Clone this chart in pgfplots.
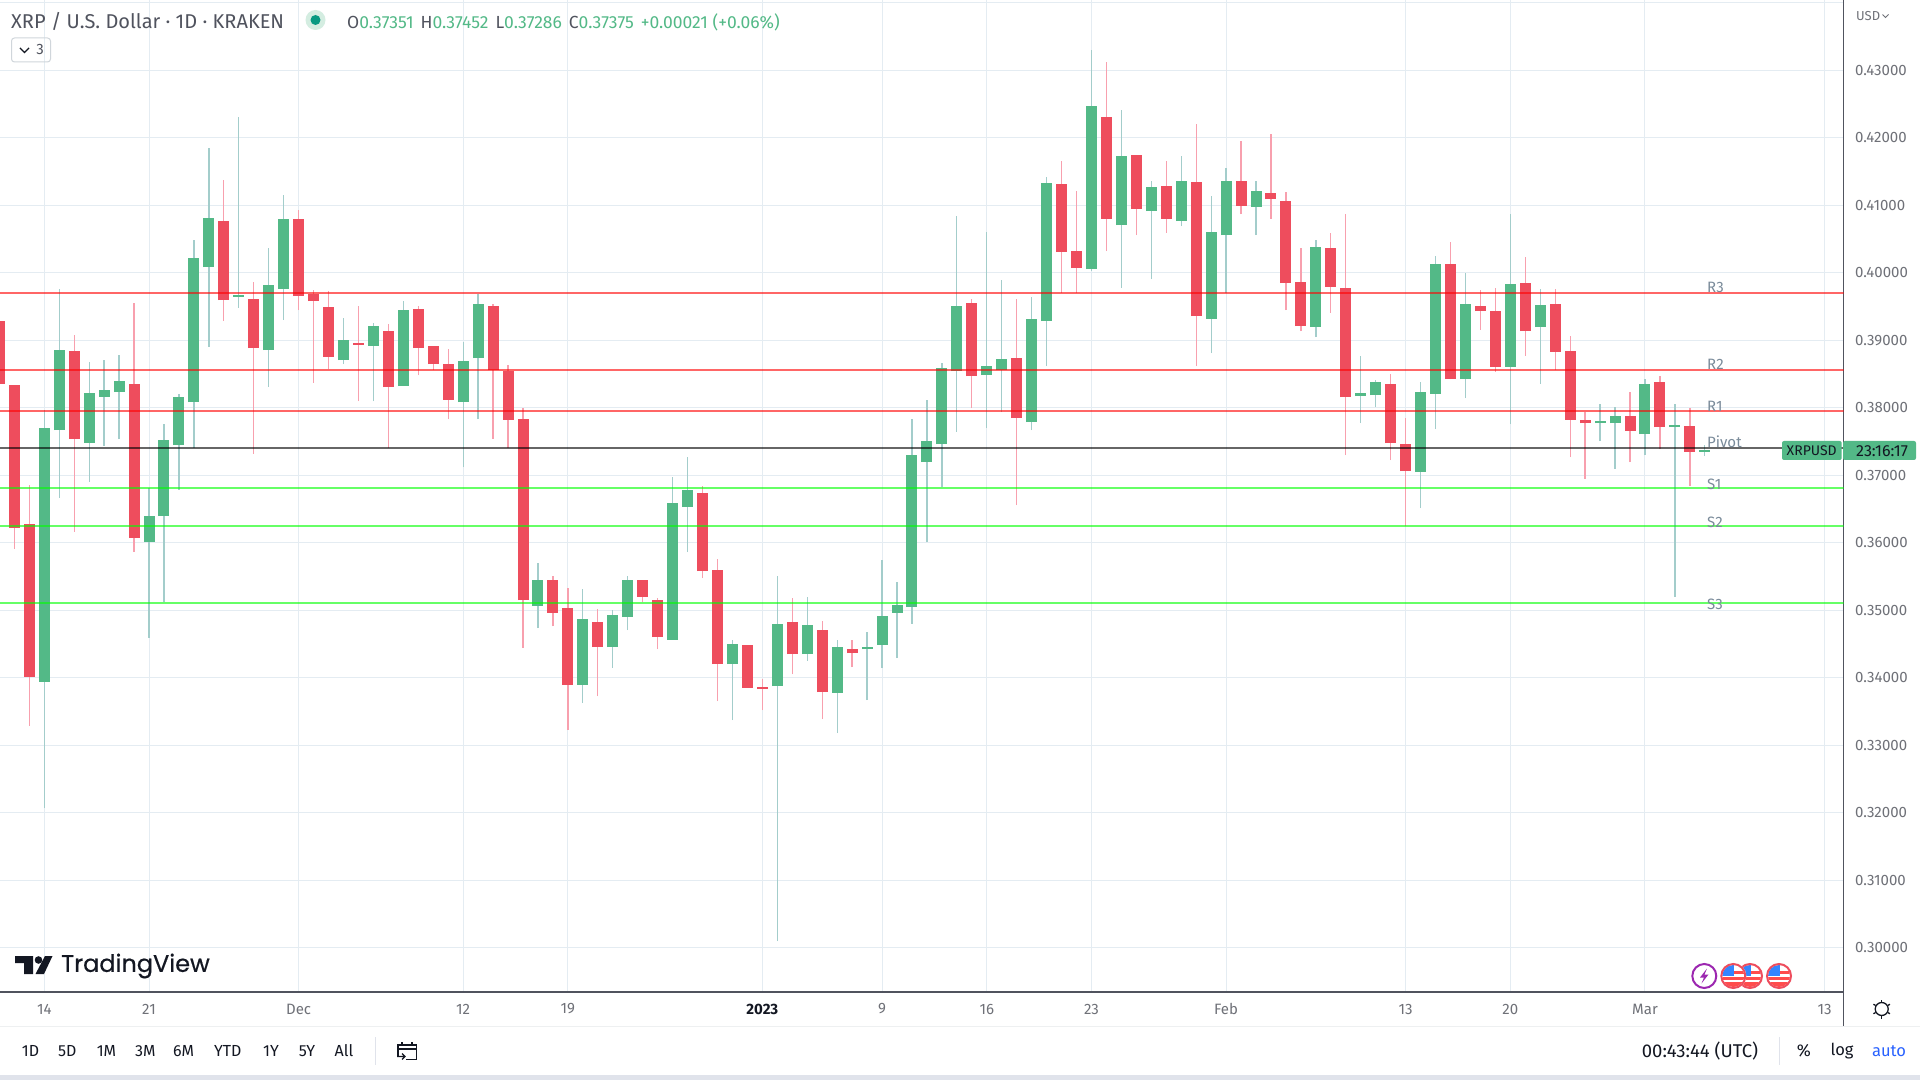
\documentclass[border=0pt]{standalone}
\usepackage{fontspec}
\usepackage{pgfplots}
\usepackage{pgfplotstable}
\pgfplotsset{compat=1.18}
\setmainfont{Fira Sans}
\newfontfamily\logofont[FakeBold=0.5]{Poppins}

\definecolor{upbody}{HTML}{53B987}
\definecolor{dnbody}{HTML}{EE4D5D}
\definecolor{upwick}{HTML}{A3CDCB}
\definecolor{dnwick}{HTML}{F8A0AE}
\definecolor{gridc}{HTML}{E4ECF2}
\definecolor{spine}{HTML}{50535E}
\definecolor{ticktxt}{HTML}{6F7178}
\definecolor{lvltxt}{HTML}{7A8B9A}
\definecolor{darktxt}{HTML}{131722}

% open high low close, read off the price scale
\pgfplotstableread{
i o h l c
0 .33939 .37968 .32072 .37701
1 .37671 .39756 .36669 .38856
3 .37483 .38679 .36906 .38219
4 .38165 .38708 .37439 .38264
5 .38234 .38782 .37538 .38397
7 .36012 .36812 .34595 .36397
8 .36397 .37760 .35128 .37523
9 .37449 .38205 .36787 .38160
10 .38086 .40486 .37405 .40219
11 .40086 .41849 .38905 .40812
13 .39642 .42308 .39483 .39671
15 .38856 .40367 .38313 .39819
16 .39760 .41152 .39301 .40797
20 .38708 .39330 .38649 .39005
22 .38916 .39256 .38101 .39212
24 .38323 .39582 .38323 .39449
28 .38086 .38975 .37123 .38694
29 .38738 .39686 .37834 .39538
33 .35064 .35701 .34738 .35449
36 .33898 .35316 .33627 .34872
38 .34457 .35005 .34150 .34931
39 .34901 .35509 .34709 .35449
42 .34561 .36975 .34561 .36590
43 .36531 .37271 .35864 .36783
46 .34205 .34561 .33376 .34501
49 .33879 .35509 .30102 .34798
51 .34353 .35198 .34250 .34783
53 .33776 .34561 .33183 .34457
55 .34427 .34679 .33672 .34457
56 .34487 .35746 .34146 .34916
57 .34961 .35420 .34294 .35079
58 .35049 .37834 .34798 .37301
59 .37197 .38116 .36012 .37508
60 .37464 .38664 .36827 .38590
61 .38545 .40841 .37642 .39508
63 .38486 .40604 .37701 .38619
64 .38560 .39893 .37938 .38723
66 .37790 .39642 .37671 .39316
67 .39286 .41419 .38619 .41330
70 .40056 .43300 .40027 .42471
72 .40708 .42412 .39775 .41730
74 .40915 .41360 .39908 .41271
76 .40767 .41730 .40693 .41360
78 .39316 .41138 .38812 .40604
79 .40560 .41552 .39701 .41360
81 .40975 .41360 .40560 .41212
85 .39197 .40486 .39049 .40382
88 .38175 .38768 .37775 .38219
89 .38190 .38412 .38012 .38382
92 .37049 .38382 .36516 .38234
93 .38205 .40249 .37686 .40130
95 .38427 .39997 .38145 .39538
98 .38605 .40871 .37760 .39834
100 .39197 .39760 .38353 .39523
104 .37775 .38057 .37508 .37805
105 .37775 .38012 .37094 .37879
107 .37612 .38427 .37301 .38353
109 .37716 .38057 .35198 .37745
111 .37351 .37452 .37286 .37375
}\upcandles

\pgfplotstableread{
i o h l c
-3 .39286 .39286 .38264 .38353
-2 .38338 .38338 .35909 .36224
-1 .36279 .36857 .33291 .34017
2 .38842 .39079 .36165 .37538
6 .38353 .39553 .35869 .36076
12 .40767 .41375 .39290 .39597
14 .39612 .39864 .37320 .38886
17 .40797 .40930 .39449 .39656
18 .39686 .39745 .38368 .39582
19 .39493 .39730 .38575 .38753
21 .38960 .39508 .38101 .38931
23 .39138 .39242 .37405 .38308
25 .39464 .39508 .38486 .38886
26 .38916 .38916 .38560 .38649
27 .38649 .38871 .37834 .38116
30 .39508 .39538 .37543 .38560
31 .38545 .38634 .37409 .37820
32 .37834 .37997 .34447 .35153
34 .35449 .35509 .34768 .34961
35 .35035 .35331 .33228 .33898
37 .34827 .35020 .33731 .34457
40 .35449 .35449 .35124 .35198
41 .35153 .35183 .34427 .34605
44 .36738 .36842 .35479 .35583
45 .35598 .35761 .33657 .34205
47 .34487 .34487 .33850 .33850
48 .33864 .33983 .33524 .33835
50 .34827 .35183 .34057 .34353
52 .34709 .34842 .33390 .33790
54 .34427 .34561 .34161 .34368
62 .39553 .39612 .37997 .38471
65 .38738 .39612 .36560 .37849
68 .41315 .41656 .39701 .40308
69 .40323 .41212 .39701 .40071
71 .42308 .43123 .40323 .40797
73 .41745 .41745 .40560 .40945
75 .41286 .41656 .40590 .40797
77 .41345 .42204 .38619 .39360
80 .41360 .41952 .40871 .40990
82 .41182 .42056 .40797 .41093
83 .41064 .41197 .39449 .39849
84 .39864 .40367 .39138 .39212
86 .40367 .40590 .39405 .39790
87 .39775 .40871 .37301 .38160
90 .38353 .38501 .37227 .37479
91 .37464 .37849 .36249 .37064
94 .40130 .40456 .38427 .38427
96 .39508 .39745 .39153 .39434
97 .39434 .39775 .38531 .38605
99 .39849 .40234 .38768 .39138
101 .39538 .39760 .38560 .38827
102 .38842 .39064 .37271 .37820
103 .37820 .37938 .36946 .37775
106 .37879 .38234 .37197 .37657
108 .38382 .38471 .37390 .37716
110 .37731 .37997 .36842 .37346
}\downcandles

% event badge with a small US flag, pixel coordinates
\newcommand{\flagbadge}[2]{%
  \begin{scope}
    \fill[white] (#1,#2) circle[radius=13pt];
    \clip (#1,#2) circle[radius=11pt];
    \fill[white] (#1-12,#2-12) rectangle (#1+12,#2+12);
    \fill[red!70!white] (#1-12,#2+0.5) rectangle (#1+12,#2+3.5);
    \fill[red!70!white] (#1-12,#2+6) rectangle (#1+12,#2+12);
    \fill[red!70!white] (#1+1,#2-5) rectangle (#1+12,#2-2);
    \fill[blue!60!cyan!80!white] (#1-12,#2-12) rectangle (#1+1,#2);
  \end{scope}
  \draw[color=dnbody,line width=2pt] (#1,#2) circle[radius=12pt];
}

\begin{document}
\begin{tikzpicture}
  \fill[white] (0pt,0pt) rectangle (1920pt,1080pt);
  \path[use as bounding box] (0pt,0pt) rectangle (1920pt,1080pt);
  \begin{axis}[
      at={(0pt,88pt)}, anchor=south west,
      width=1843.5pt, height=992pt, scale only axis,
      xmin=-2.961, xmax=120.27,
      ymin=0.29347, ymax=0.44041,
      axis x line*=bottom, axis y line*=right,
      axis line style={color=spine, line width=1.5pt},
      grid=major, grid style={color=gridc, line width=1pt},
      major tick length=0pt,
      xtick={0,7,17,28,35,48,56,63,70,79,91,98,107,119},
      xticklabels={14,21,Dec,12,19,\textbf{\color{darktxt}2023},9,16,23,Feb,13,20,Mar,13},
      ytick={0.30,0.31,0.32,0.33,0.34,0.35,0.36,0.37,0.38,0.39,0.40,0.41,0.42,0.43,0.44},
      yticklabels={0.30000,0.31000,0.32000,0.33000,0.34000,0.35000,0.36000,0.37000,0.38000,0.39000,0.40000,0.41000,0.42000,0.43000,},
      every x tick label/.append style={anchor=center, yshift=-17pt, font=\fontsize{15}{18}\selectfont, text=ticktxt},
      every y tick label/.append style={anchor=west, inner sep=0pt, xshift=11.5pt, font=\fontsize{15}{18}\selectfont, text=ticktxt},
    ]
    % wicks
    \addplot[draw=none, forget plot, error bars/.cd, y dir=plus, y explicit, error mark=none,
        error bar style={draw=upwick, line width=1.3pt}]
      table[x=i, y=l, y error plus expr=\thisrow{h}-\thisrow{l}] {\upcandles};
    \addplot[draw=none, forget plot, error bars/.cd, y dir=plus, y explicit, error mark=none,
        error bar style={draw=dnwick, line width=1.3pt}]
      table[x=i, y=l, y error plus expr=\thisrow{h}-\thisrow{l}] {\downcandles};
    % bodies
    \addplot[draw=none, forget plot, error bars/.cd, y dir=plus, y explicit, error mark=none,
        error bar style={draw=upbody, line width=11pt}]
      table[x=i, y=o, y error plus expr=\thisrow{c}-\thisrow{o}] {\upcandles};
    \addplot[draw=none, forget plot, error bars/.cd, y dir=plus, y explicit, error mark=none,
        error bar style={draw=dnbody, line width=11pt}]
      table[x=i, y=c, y error plus expr=\thisrow{o}-\thisrow{c}] {\downcandles};
    % pivot levels
    \addplot[color=red, opacity=0.6, line width=2pt] coordinates {(-3,0.39706) (121,0.39706)};
    \addplot[color=red, opacity=0.6, line width=2pt] coordinates {(-3,0.38561) (121,0.38561)};
    \addplot[color=red, opacity=0.6, line width=2pt] coordinates {(-3,0.37953) (121,0.37953)};
    \addplot[color=black, opacity=0.6, line width=2pt] coordinates {(-3,0.37405) (121,0.37405)};
    \addplot[color=green, opacity=0.6, line width=2pt] coordinates {(-3,0.36813) (121,0.36813)};
    \addplot[color=green, opacity=0.6, line width=2pt] coordinates {(-3,0.36250) (121,0.36250)};
    \addplot[color=green, opacity=0.6, line width=2pt] coordinates {(-3,0.35109) (121,0.35109)};
  \end{axis}
  \begin{scope}[x=1pt, y=-1pt, shift={(0pt,1080pt)}]
    % toolbar frame
    \draw[color=spine, line width=1.5pt] (1843.5,992) -- (1843.5,1026);
    \draw[color=gridc!70!gray!30, line width=1pt] (0,1026.5) -- (1920,1026.5);
    \fill[color={rgb,255:red,224;green,227;blue,235}] (0,1075) rectangle (1920,1080);
    \draw[color={rgb,255:red,224;green,227;blue,235}, line width=1pt] (375.5,1037) -- (375.5,1065);
    \draw[color={rgb,255:red,224;green,227;blue,235}, line width=1pt] (1779.7,1037) -- (1779.7,1065);
    % header
    \node[anchor=west, inner sep=0pt, text=spine, font=\fontsize{20}{24}\selectfont] at (11,21) {XRP / U.S. Dollar · 1D · KRAKEN};
    \fill[color=upbody!25!white] (315.5,20) circle[radius=10pt];
    \fill[color={rgb,255:red,8;green,153;blue,129}] (315.5,20) circle[radius=5pt];
    \node[anchor=west, inner sep=0pt, font=\fontsize{17.5}{21}\selectfont, text=upbody] at (347,22)
      {\textcolor{spine}{O}0.37351\hspace{7pt}\textcolor{spine}{H}0.37452\hspace{7pt}\textcolor{spine}{L}0.37286\hspace{7pt}\textcolor{spine}{C}0.37375\hspace{7pt}+0.00021 (+0.06\%)};
    \draw[color=gridc!80!gray, line width=1pt, rounded corners=3pt] (11.5,38) rectangle (50.5,62);
    \draw[color=darktxt, line width=1.4pt] (20,48) -- (24.5,52.5) -- (29,48);
    \node[inner sep=0pt, text=spine, font=\fontsize{15}{18}\selectfont] at (40,50) {3};
    % scale header
    \node[anchor=west, inner sep=0pt, text=ticktxt, font=\fontsize{13}{15}\selectfont] at (1856,16) {USD};
    \draw[color=ticktxt, line width=1pt] (1882.5,14.5) -- (1885.5,17.5) -- (1888.5,14.5);
    % level labels
    \foreach \yy/\lab in {287/R3,364/R2,406.7/R1,441.7/Pivot,484.3/S1,522.7/S2,604/S3}
      \node[anchor=west, inner sep=0pt, text=lvltxt, font=\fontsize{15}{18}\selectfont] at (1707,\yy) {\lab};
    % last price tags
    \fill[color=upbody, rounded corners=2pt] (1782,441) rectangle (1841.7,460);
    \fill[color=upbody, rounded corners=2pt] (1843,441) rectangle (1916,460);
    \node[inner sep=0pt, text=darktxt, font=\fontsize{14}{17}\selectfont] at (1811.7,450.7) {XRPUSD};
    \node[inner sep=0pt, text=darktxt, font=\fontsize{16}{19}\selectfont] at (1882,450.7) {23:16:17};
    % logo
    \fill[color=darktxt] (15,956) -- (33,956) -- (33,974) -- (24,974) -- (24,963) -- (15,963) -- cycle;
    \fill[color=darktxt] (38.5,960) circle[radius=3.8pt];
    \fill[color=darktxt] (45,956) -- (52.5,956) -- (44,974) -- (35.5,974) -- cycle;
    \node[anchor=west, inner sep=0pt, text=darktxt, font=\logofont\fontsize{24}{29}\selectfont] at (61,966) {TradingView};
    % event badges
    \fill[white] (1704.3,976) circle[radius=13pt];
    \draw[color={rgb,255:red,156;green,39;blue,176}, line width=2pt] (1704.3,976) circle[radius=12pt];
    \fill[color={rgb,255:red,156;green,39;blue,176}] (1707,968.5) -- (1700,977.5) -- (1704,977.5) -- (1701.5,983.5) -- (1708.5,974.5) -- (1704.5,974.5) -- cycle;
    \flagbadge{1750}{976}
    \flagbadge{1733.3}{976}
    \flagbadge{1779}{976}
    % settings icon
    \draw[color=darktxt, line width=1.3pt] (1881.7,1009) circle[radius=6.5pt];
    \foreach \a in {0,60,...,300}
      \draw[color=darktxt, line width=1.3pt] (1881.7,1009) ++(\a+30:7pt) -- ++(\a+30:2.5pt);
    % range buttons
    \foreach \xx/\lab in {30.6/1D,67.3/5D,106.5/1M,145.3/3M,183.7/6M,227.8/YTD,271/1Y,307/5Y,344/All}
      \node[inner sep=0pt, text=darktxt, font=\fontsize{16}{19}\selectfont] at (\xx,1050.7) {\lab};
    % go-to-date icon
    \draw[color=darktxt, line width=1.1pt] (398,1056) -- (398,1045) -- (416.5,1045) -- (416.5,1059.5) -- (406,1059.5);
    \draw[color=darktxt, line width=1.1pt] (398,1049) -- (416.5,1049);
    \draw[color=darktxt, line width=1.1pt] (402,1042) -- (402,1046) (412,1042) -- (412,1046);
    \draw[color=darktxt, line width=1.1pt] (397,1056.5) -- (405,1056.5) (402,1053.5) -- (405,1056.5) -- (402,1059.5);
    % right side of the toolbar
    \node[anchor=west, inner sep=0pt, text=darktxt, font=\fontsize{18.5}{22}\selectfont] at (1641.7,1050.7) {00:43:44 (UTC)};
    \node[inner sep=0pt, text=darktxt, font=\fontsize{17}{20}\selectfont] at (1804,1050.7) {\%};
    \node[inner sep=0pt, text=darktxt, font=\fontsize{16.5}{20}\selectfont] at (1842,1050.7) {log};
    \node[inner sep=0pt, text={rgb,255:red,41;green,98;blue,255}, font=\fontsize{16.5}{20}\selectfont] at (1889,1050.7) {auto};
  \end{scope}
\end{tikzpicture}
\end{document}
